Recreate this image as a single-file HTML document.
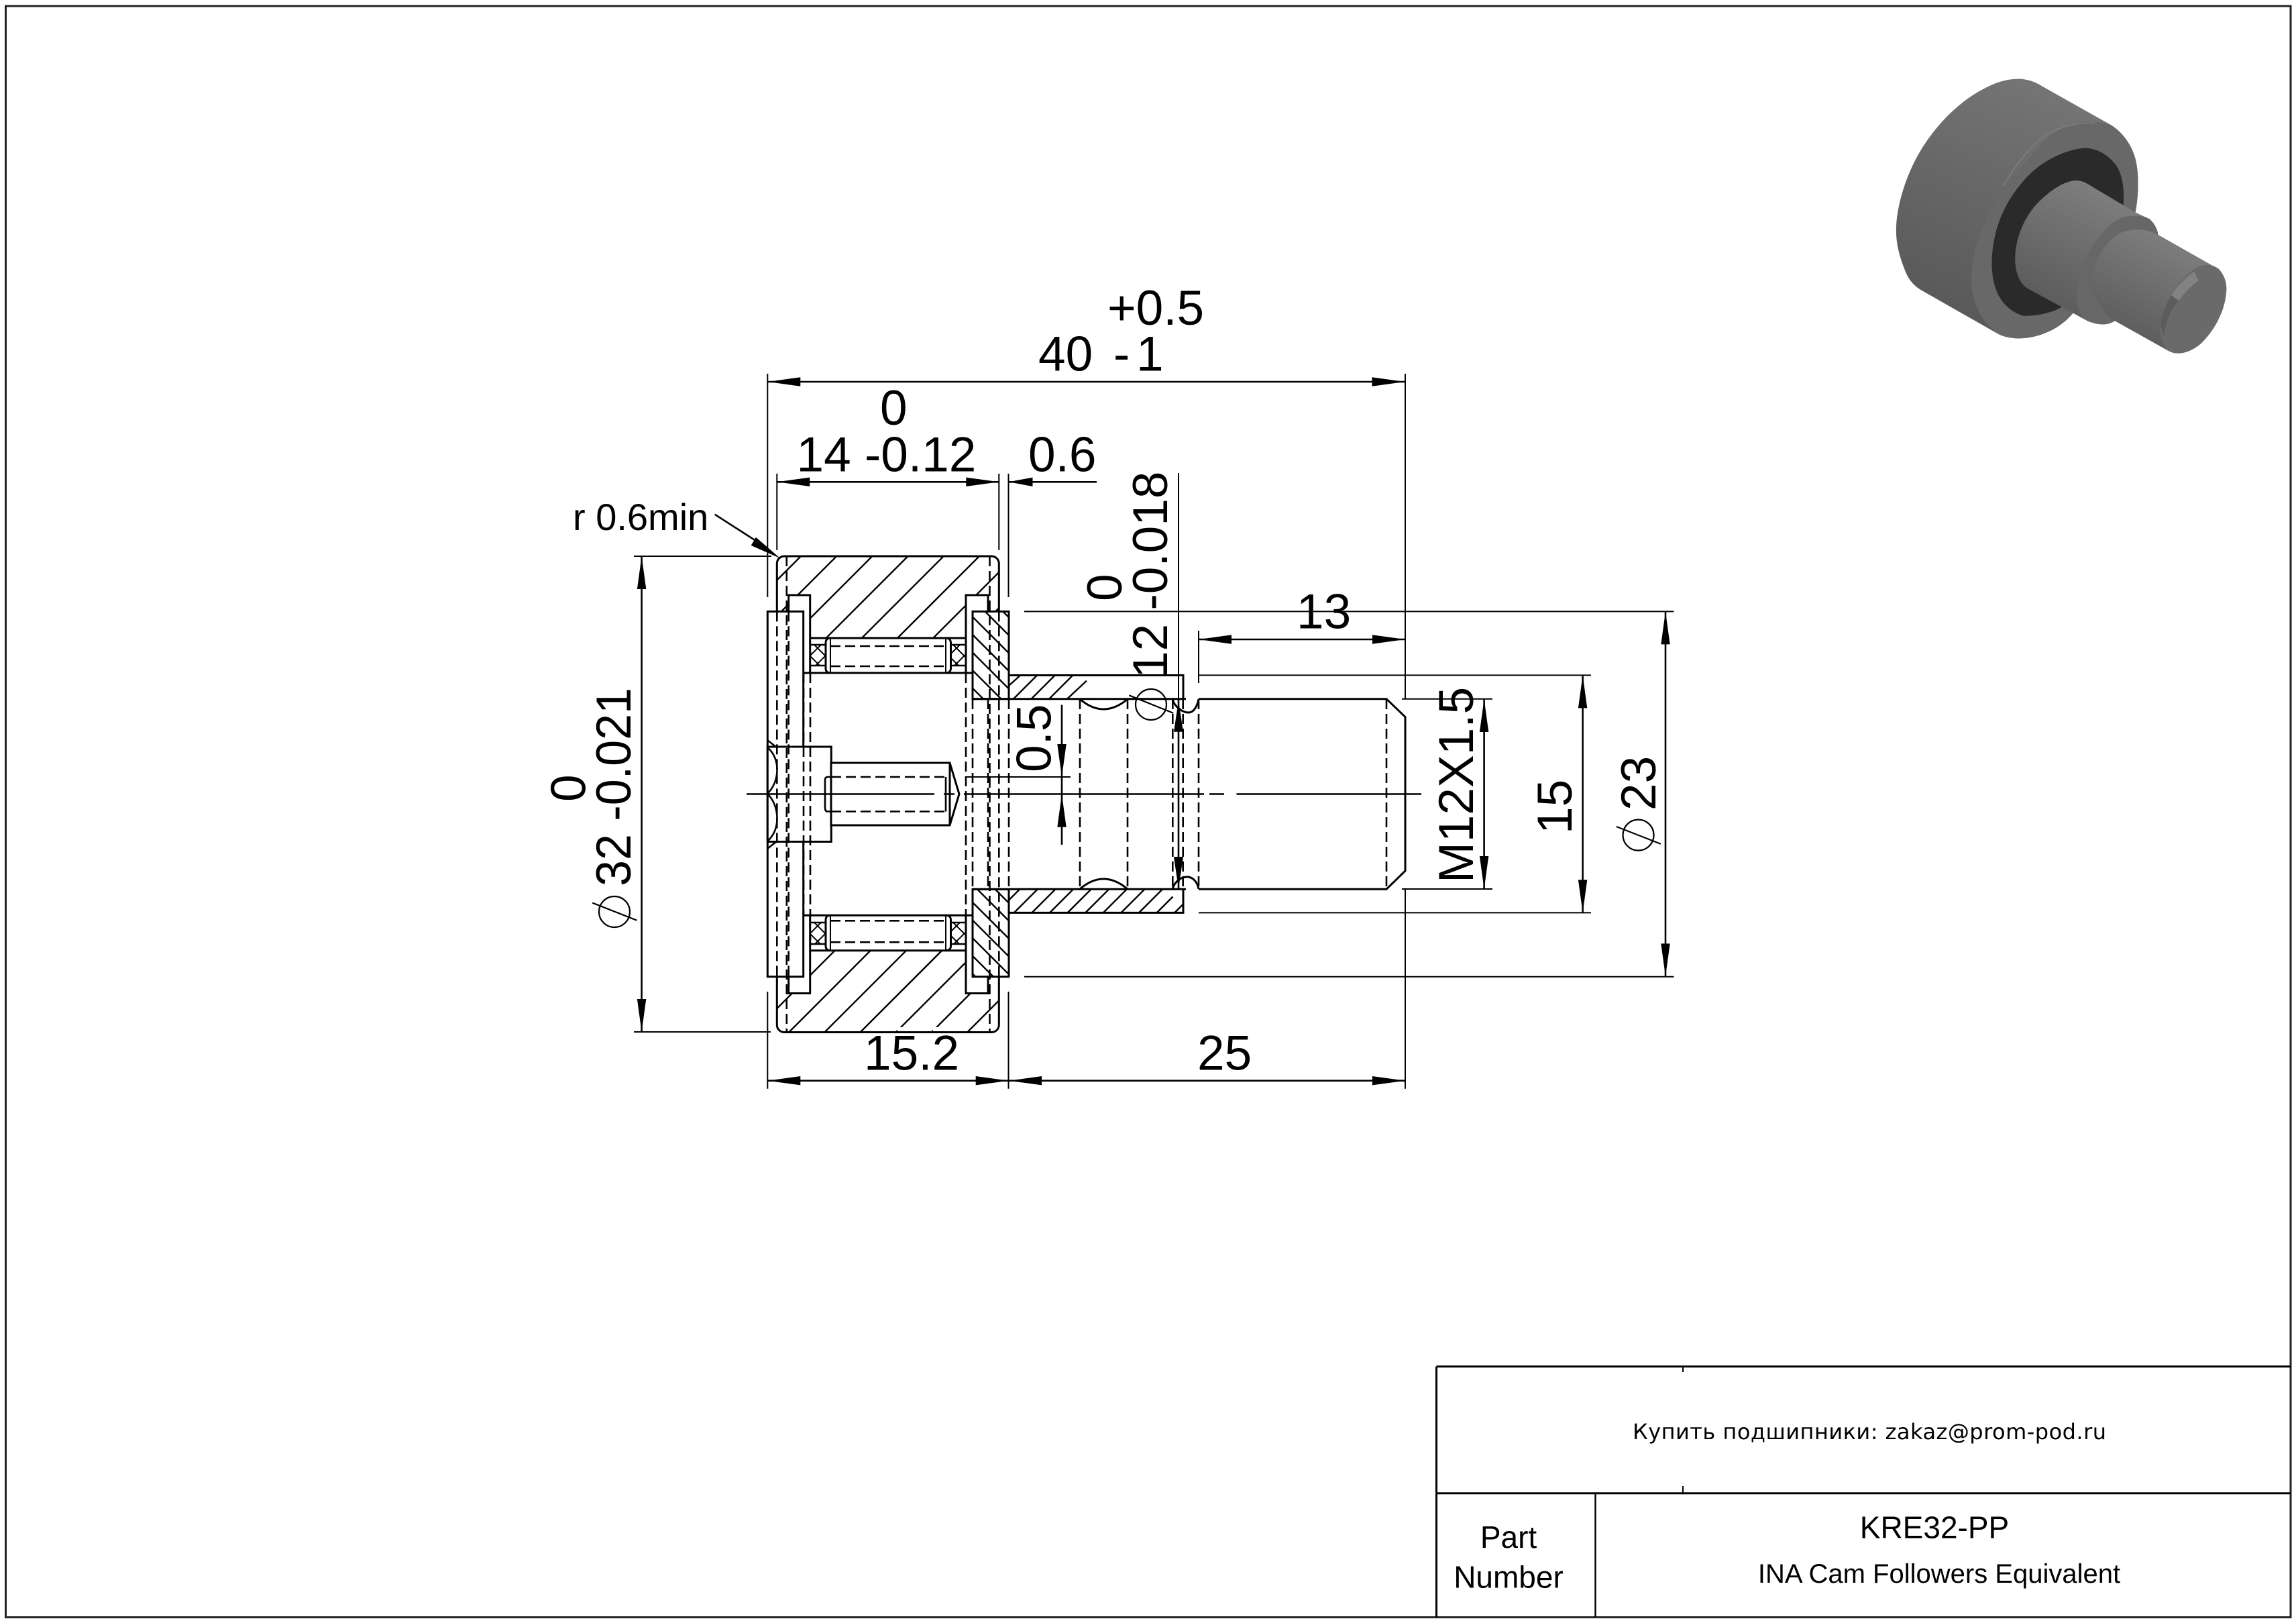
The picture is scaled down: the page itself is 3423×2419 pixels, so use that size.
<!DOCTYPE html>
<html><head><meta charset="utf-8"><style>
html,body{margin:0;padding:0;background:#fff;width:3423px;height:2419px;overflow:hidden}
svg{display:block}
text{font-family:"Liberation Sans",sans-serif;font-size:73px;fill:#000}
.o{fill:none;stroke:#000;stroke-width:3}
.w{fill:#fff;stroke:#000;stroke-width:3}
.h{fill:none;stroke:#000;stroke-width:2.4}
.d{fill:none;stroke:#000;stroke-width:2.6;stroke-dasharray:15 7}
.e{fill:none;stroke:#000;stroke-width:2}
.m{fill:none;stroke:#000;stroke-width:2.6}
.a{fill:#000}
</style></head><body>
<svg width="3423" height="2419" viewBox="0 0 3423 2419" xmlns="http://www.w3.org/2000/svg">
<defs>
<clipPath id="cr"><rect x="1158.3" y="829" width="331" height="709.5" rx="11"/></clipPath>
<clipPath id="cc1"><rect x="1450" y="911.4" width="54" height="130.4"/></clipPath>
<clipPath id="cc2"><rect x="1450" y="1325.5" width="54" height="130.2"/></clipPath>
<clipPath id="cs2"><rect x="1504" y="1325.3" width="260" height="35.1"/></clipPath>
<pattern id="xh" width="23" height="23" patternUnits="userSpaceOnUse"><path d="M0 0L23 23M23 0L0 23" stroke="#000" stroke-width="2" fill="none"/></pattern>
<linearGradient id="g1" x1="0.75" y1="0" x2="0.25" y2="1"><stop offset="0" stop-color="#7a7a7a"/><stop offset="0.55" stop-color="#666"/><stop offset="1" stop-color="#565656"/></linearGradient>
<linearGradient id="g2" x1="0.7" y1="0.1" x2="0.3" y2="0.9"><stop offset="0" stop-color="#7e7e7e"/><stop offset="1" stop-color="#5c5c5c"/></linearGradient>
</defs>

<rect width="3423" height="2419" fill="#fff"/>
<!-- frame -->
<rect x="8.5" y="9" width="3406.5" height="2401.5" fill="none" stroke="#222" stroke-width="3"/>

<!-- title block -->
<g fill="none" stroke="#000">
<path d="M2141.5 2036.7H3415M2141.5 2225.7H3415M2141.5 2036.7V2410" stroke-width="3"/>
<path d="M2378.5 2225.7V2410" stroke-width="2.4"/>
<path d="M2509 2037V2045M2509 2215V2225" stroke-width="2"/>
</g>
<text x="2434" y="2145" textLength="706" lengthAdjust="spacing" style="font-family:'DejaVu Sans',sans-serif;font-size:32px">Купить подшипники: zakaz@prom-pod.ru</text>
<text x="2884" y="2292.7" text-anchor="middle" style="font-size:46px">KRE32-PP</text>
<text x="2891" y="2359" text-anchor="middle" style="font-size:40px">INA Cam Followers Equivalent</text>
<text x="2249" y="2307" text-anchor="middle" style="font-size:46px">Part</text>
<text x="2249" y="2366.7" text-anchor="middle" style="font-size:46px">Number</text>

<!-- 3D view -->
<g transform="translate(2780 90) scale(.3571 .3333)">
<path fill="url(#g1)" d="M640 83C680 83 710 95 740 115L1030 290C1080 325 1115 380 1130 440C1145 500 1145 600 1130 680L1190 710C1210 730 1222 755 1225 780L1480 935C1500 960 1512 990 1510 1030C1505 1120 1460 1210 1400 1270C1370 1295 1340 1310 1310 1310C1295 1310 1285 1308 1270 1300L1045 1165C1025 1178 1005 1182 985 1180C960 1178 945 1172 930 1165L870 1130C830 1180 790 1205 740 1225C700 1240 660 1245 630 1243C600 1240 580 1235 560 1225L240 1030C200 1005 180 975 165 930C135 850 125 780 135 700C150 580 200 440 280 330C350 230 440 150 540 105C575 90 610 83 640 83Z"/>
<path fill="#686868" d="M900 278C950 270 1000 275 1030 290C1080 325 1115 380 1130 440C1145 500 1145 600 1130 680L870 1130C830 1180 790 1205 740 1225C700 1240 660 1245 630 1243C600 1240 580 1235 560 1225C500 1180 455 1110 445 1000C440 900 470 780 530 670C590 560 680 440 770 340C810 305 860 285 900 278Z"/>
<path fill="none" stroke="#7d7d7d" stroke-width="5" d="M580 560C640 450 720 340 800 310C860 285 900 280 960 278"/>
<path fill="#2a2a2a" d="M920 392C970 392 1020 425 1050 470C1075 510 1085 570 1080 650L820 1105C790 1125 720 1145 660 1142C610 1125 570 1085 550 1030C525 960 525 870 545 780C570 660 640 550 720 480C780 430 860 395 920 392Z"/>
<path fill="url(#g2)" d="M880 537C900 537 915 542 930 552L1130 680L1190 710C1210 730 1222 755 1225 780L1045 1165L930 1165L870 1130L680 1020C650 1000 632 960 628 900C625 810 660 710 720 640C770 585 830 540 880 537Z"/>
<path fill="#676767" d="M1060 710C1100 690 1160 690 1190 710C1210 730 1222 755 1225 780L1045 1165C1025 1178 1005 1182 985 1180C960 1178 945 1172 930 1165C895 1140 880 1100 885 1030C895 900 980 755 1060 710Z"/>
<path fill="url(#g2)" d="M1070 770C1110 755 1160 745 1225 780L1480 935L1380 930C1330 960 1270 1060 1240 1170L1270 1300L1045 1165C1000 1140 960 1070 945 1000C950 900 1010 800 1070 770Z"/>
<path fill="#6a6a6a" d="M1380 930C1420 905 1460 915 1480 935C1500 960 1512 990 1510 1030C1505 1120 1460 1210 1400 1270C1370 1295 1340 1310 1310 1310C1295 1310 1285 1308 1270 1300C1240 1270 1228 1220 1235 1170C1250 1080 1310 980 1380 930Z"/>
<path fill="#828282" d="M1375 945C1335 975 1300 1015 1280 1050L1310 1075C1335 1040 1365 1005 1395 985Z"/>
<path fill="#5c5c5c" d="M1280 1050C1255 1095 1240 1140 1235 1180L1250 1240C1250 1180 1280 1110 1310 1075Z"/>
</g>

<!-- ring hatch -->
<g clip-path="url(#cr)"><path class="h" d="M1100 923l450 -450M1100 976.2l450 -450M1100 1029.4l450 -450M1100 1082.6l450 -450M1100 1135.8l450 -450M1100 1189l450 -450M1100 1242.2l450 -450M1100 1295.4l450 -450M1100 1348.6l450 -450M1100 1401.8l450 -450M1100 1455l450 -450M1100 1508.2l450 -450M1100 1561.4l450 -450M1100 1614.6l450 -450M1100 1667.8l450 -450M1100 1721l450 -450M1100 1774.2l450 -450M1100 1827.4l450 -450M1100 1880.6l450 -450"/></g>
<rect class="o" x="1158.3" y="829" width="331" height="709.5" rx="11"/>
<path d="M1338 1531h18v8h-18zM1391 1531h18v8h-18z" fill="#fff"/>
<path d="M1330 1538.5h90" class="o"/>

<!-- washers -->
<rect class="w" x="1175.7" y="887" width="32" height="593.5"/>
<rect class="w" x="1440" y="887" width="33" height="593.5"/>
<!-- inner bore + race -->
<rect x="1199" y="1004" width="250" height="360" fill="#fff"/>
<rect x="1209.5" y="952.5" width="229" height="50" fill="#fff"/>
<rect x="1209.5" y="1365.5" width="229" height="50" fill="#fff"/>
<path class="o" d="M1208 951H1440M1198 1003H1450M1198 1364.3H1450M1208 1416.7H1440"/>
<!-- cages -->
<rect x="1208" y="961" width="23" height="31" fill="url(#xh)"/>
<rect x="1418" y="961" width="22" height="31" fill="url(#xh)"/>
<rect x="1208" y="1375" width="23" height="32" fill="url(#xh)"/>
<rect x="1418" y="1375" width="22" height="32" fill="url(#xh)"/>
<path class="h" d="M1208 961H1231M1208 992H1231M1418 961H1440M1418 992H1440M1208 1375H1231M1208 1407H1231M1418 1375H1440M1418 1407H1440"/>
<!-- needles -->
<path class="o" d="M1238 951C1233 951 1231 954 1231 958V996C1231 1000 1233 1003 1238 1003M1410 951C1415 951 1417.5 954 1417.5 958V996C1417.5 1000 1415 1003 1410 1003M1238 1364.3C1233 1364.3 1231 1367 1231 1371V1410C1231 1414 1233 1416.7 1238 1416.7M1410 1364.3C1415 1364.3 1417.5 1367 1417.5 1371V1410C1417.5 1414 1415 1416.7 1410 1416.7"/>
<path class="o" d="M1238 951V1003M1410 951V1003M1238 1364.3V1416.7M1410 1364.3V1416.7" style="stroke-width:2"/>
<path class="d" d="M1238 963H1410M1238 993H1410M1238 1372.3H1410M1238 1404.3H1410"/>

<!-- collar -->
<rect x="1450" y="911.4" width="54" height="544.3" fill="#fff"/>
<g clip-path="url(#cc1)"><path class="h" d="M1440 856.2l80 80M1440 882.8l80 80M1440 909.4l80 80M1440 936l80 80M1440 962.6l80 80M1440 989.2l80 80M1440 1015.8l80 80"/></g>
<g clip-path="url(#cc2)"><path class="h" d="M1440 1281.8l80 80M1440 1308.4l80 80M1440 1335l80 80M1440 1361.6l80 80M1440 1388.2l80 80M1440 1414.8l80 80M1440 1441.4l80 80"/></g>
<path class="o" d="M1450 911.4H1504V1041.8H1450ZM1450 1325.5H1504V1455.7H1450Z"/>
<!-- stud head -->
<rect class="w" x="1144.3" y="911.4" width="53.4" height="544.3"/>
<!-- sleeve hatch -->
<path class="h" d="M1504 1022L1520 1007.5M1511 1041.6l35 -35M1537.6 1041.6l35 -35M1564.2 1041.6l35 -35M1591 1041.6l29 -27"/>
<g clip-path="url(#cs2)"><path class="h" d="M1485.2 1360.4l40 -40M1511.8 1360.4l40 -40M1538.4 1360.4l40 -40M1565 1360.4l40 -40M1591.6 1360.4l40 -40M1618.2 1360.4l40 -40M1644.8 1360.4l40 -40M1671.4 1360.4l40 -40M1698 1360.4l40 -40M1724.6 1360.4l24 -24M1751.2 1360.4l40 -40"/></g>
<path class="o" d="M1504 1006.5H1764V1042M1504 1360.4H1764V1325"/>
<path class="o" d="M1450 1041.7H1768M1450 1325.3H1768M1787 1041.7H2067L2095 1068.6V1298L2067 1325.3H1787"/>
<path class="o" d="M1610 1042Q1645 1072 1681 1042M1610 1325Q1645 1295 1681 1325M1748 1042C1752 1056 1765 1062 1772 1062C1780 1062 1785 1052 1787 1042M1748 1325C1752 1312 1762 1307 1770 1307C1778 1307 1785 1314 1787 1325"/>

<!-- centre pin -->
<rect class="w" x="1144.3" y="1113" width="95" height="141.5"/>
<path class="w" d="M1239 1137H1416L1430 1183.5L1416 1230H1239Z"/>
<path class="o" d="M1416 1137V1230"/>
<path class="o" d="M1239 1158H1234C1231 1158 1230 1160 1230 1163V1204C1230 1207 1231 1209.5 1234 1209.5H1239" style="stroke-width:2.6"/>
<path class="o" d="M1144 1103L1158 1114M1144 1265L1158 1254M1144 1114C1154 1122 1159 1135 1158.5 1149C1158 1163 1153 1174 1144 1183C1153 1192 1158 1204 1158.5 1218C1159 1233 1154 1245 1144 1254" style="stroke-width:2.6"/>
<path class="d" d="M1239 1158H1410M1239 1209.5H1410"/>
<path class="m" d="M1410 1158V1209.5"/>

<!-- long dashes -->
<path class="d" d="M1158.3 911.4V1455.7M1172.8 829V1538M1489.3 911.4V1455.7M1475.5 829V1538M1175.7 911.4V1456M1473 1042V1325M1198 1003V1364M1208 1003V1364M1440 1003V1364M1450 1042V1325M1504 1042V1325M1610 1042V1325M1681 1042V1325M1748.3 1042V1325M1763.7 1042V1325M1787 1042V1325M2067 1042V1325"/>

<!-- centre line -->
<path class="m" d="M1113 1183.5H1393M1407 1183.5H1423M1437 1183.5H1795M1803 1183.5H1825M1843.5 1183.5H2119"/>

<!-- extension lines -->
<path class="e" d="M1144.3 557V890M1144.3 1478V1622.7M1158.3 706V820M1489.3 706V820M1503.5 706V890M1503.5 1478V1622.7M2095 557V1041M2095 1325V1622.7M945 829H1150M945 1538H1149M1527 911.4H2495.5M1527 1455.7H2495.5M1787 1006.4H2372M1787 1360.4H2372M2090 1041.8H2225M2090 1325H2225M1787 940V1018M1757 705V1043M1440 1158H1596"/>

<!-- dim lines -->
<path class="m" d="M1144 569H2095M1158 718.3H1489M1503 718.3H1635M1144 1610.7H2095M1787 953H2095M956.6 829V1538M2212.6 1042V1325M2359.6 1006.4V1360.4M2483 911.4V1455.4M1583 1050.6V1259M1757 1043V1325"/>
<path class="m" d="M1065.7 766.7L1130 808"/>

<!-- arrows -->
<path class="a" d="M1144.3 569l49 -6.7v13.4zM2094.5 569l-49 -6.7v13.4zM1158.3 718.3l49 -6.7v13.4zM1489.3 718.3l-49 -6.7v13.4zM1503.5 718.3l36 -6.7v13.4zM1144.3 1610.7l49 -6.7v13.4zM1503.7 1610.7l-49 -6.7v13.4zM1504 1610.7l49 -6.7v13.4zM2095 1610.7l-49 -6.7v13.4zM1787 953l49 -6.7v13.4zM2095 953l-49 -6.7v13.4z"/>
<path class="a" d="M956.6 829l-6.7 49h13.4zM956.6 1538l-6.7 -49h13.4zM2212.6 1042l-6.7 49h13.4zM2212.6 1325l-6.7 -49h13.4zM2359.6 1006.4l-6.7 49h13.4zM2359.6 1360.4l-6.7 -49h13.4zM2483 911.4l-6.7 49h13.4zM2483 1455.4l-6.7 -49h13.4zM1583 1158l-6.7 -49h13.4zM1583 1183.7l-6.7 49h13.4zM1757 1043.7l-7 47h14zM1757 1325l-7 -48h14z"/>
<path class="a" d="M1163 832L1127 800.7L1119.7 813Z"/>

<!-- circle symbols -->
<g fill="none" stroke="#000" stroke-width="2.2">
<circle cx="916" cy="1359" r="23"/><path d="M883.3 1345.7L949.3 1371.7"/>
<circle cx="1716" cy="1050" r="23"/><path d="M1683.3 1036.3L1749.3 1062.9"/>
<circle cx="2442.5" cy="1244.6" r="23"/><path d="M2409.8 1232L2476 1257.9"/>
</g>

<!-- dimension text -->
<text x="1651" y="484">+0.5</text>
<text x="1548" y="552.7">40</text>
<text x="1660" y="552.7">-</text>
<text x="1694" y="552.7">1</text>
<text x="1312" y="633">0</text>
<text x="1187.5" y="702.7">14 -0.12</text>
<text x="1533" y="702.7">0.6</text>
<text x="854" y="790" style="font-size:56px">r 0.6min</text>
<text x="1288" y="1594.3">15.2</text>
<text x="1785" y="1594.3">25</text>
<text x="1933" y="936.4">13</text>
<text transform="translate(2196 1316) rotate(-90)">M12X1.5</text>
<text transform="translate(2343 1243) rotate(-90)">15</text>
<text transform="translate(2468 1208) rotate(-90)">23</text>
<text transform="translate(1566.6 1151) rotate(-90)">0.5</text>
<text transform="translate(1740 1011) rotate(-90)">12 -0.018</text>
<text transform="translate(1672 896) rotate(-90)">0</text>
<text transform="translate(940 1321) rotate(-90)" textLength="296" lengthAdjust="spacingAndGlyphs">32 -0.021</text>
<text transform="translate(872.7 1195) rotate(-90)">0</text>
</svg>
</body></html>
